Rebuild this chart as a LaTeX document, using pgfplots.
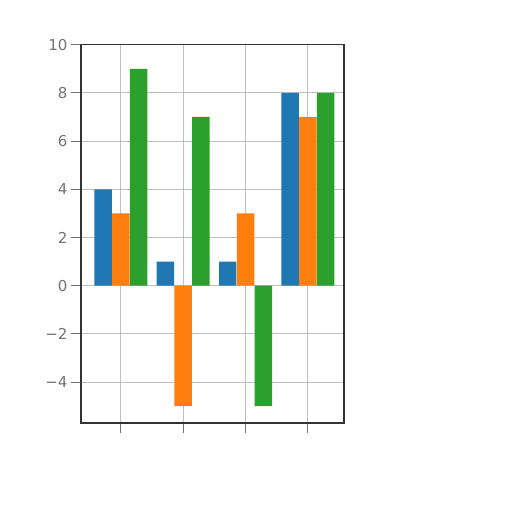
\documentclass[border=0pt]{standalone}
\usepackage{fontspec}
\setmainfont{DejaVu Sans}
\usepackage{pgfplots}
\pgfplotsset{compat=1.18}

\definecolor{tabblue}{HTML}{1F77B4}
\definecolor{taborange}{HTML}{FF7F0E}
\definecolor{tabgreen}{HTML}{2CA02C}

\begin{document}
\begin{tikzpicture}[x=1pt,y=1pt]
\useasboundingbox (0,0) rectangle (512,512);
\begin{axis}[
    at={(81pt,89pt)}, anchor=south west,
    scale only axis,
    width=263pt, height=378.3pt,
    xmin=-0.64, xmax=3.58,
    ymin=-5.7, ymax=10,
    xtick={0,1,2,3}, xticklabels={},
    ytick={-4,-2,0,2,4,6,8,10},
    yticklabels={−4,−2,0,2,4,6,8,10},
    tick label style={font=\fontsize{15}{15}\selectfont, text=black!55},
    tick align=outside,
    major tick length=10pt,
    tick style={black!55, line width=0.8pt},
    xtick pos=bottom, ytick pos=left,
    grid=major,
    grid style={black!25, line width=0.8pt},
    axis line style={black!80, line width=1.5pt},
    ybar, bar width=0.28,
    bar shift=0pt,
]
\addplot[fill=tabblue, draw=none, bar shift=-0.285] coordinates {(0,4) (1,1) (2,1) (3,8)};
\addplot[fill=taborange, draw=none, bar shift=0] coordinates {(0,3) (1,-5) (2,3) (3,7)};
\addplot[fill=tabgreen, draw=none, bar shift=0.285] coordinates {(0,9) (1,7) (2,-5) (3,8)};
\end{axis}
\end{tikzpicture}
\end{document}
